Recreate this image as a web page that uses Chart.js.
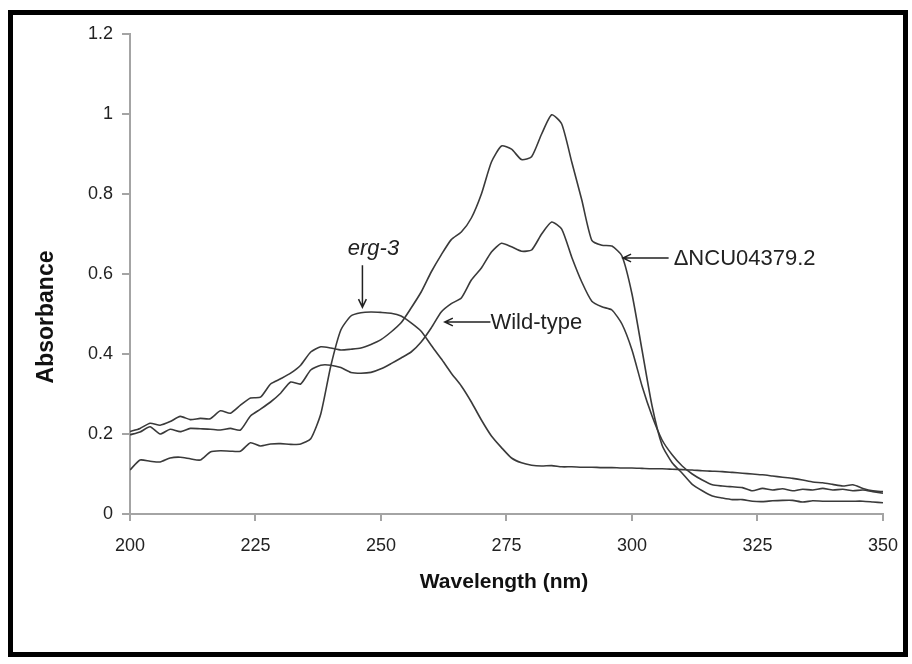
<!DOCTYPE html>
<html>
<head>
<meta charset="utf-8">
<script src="https://cdn.jsdelivr.net/npm/chart.js@4.4.1/dist/chart.umd.min.js"></script>
<style>
  html, body { margin: 0; padding: 0; background: #fff; }
  #wrap { width: 912px; height: 664px; }
</style>
</head>
<body>
<div id="wrap"><canvas id="grafico" width="912" height="664"></canvas></div>
<script>
// comprimento de onda (nm), passo de 2 nm
const comprimentos = [];
for (let nm = 200; nm <= 350; nm += 2) comprimentos.push(nm);

// absorbancia
const delta04379 = [
  0.206, 0.214, 0.227, 0.222, 0.231, 0.244, 0.236, 0.239, 0.238, 0.258,
  0.252, 0.272, 0.290, 0.292, 0.325, 0.338, 0.352, 0.372, 0.405, 0.418,
  0.415, 0.410, 0.412, 0.415, 0.424, 0.436, 0.455, 0.478, 0.515, 0.555,
  0.605, 0.648, 0.686, 0.705, 0.740, 0.800, 0.880, 0.920, 0.912, 0.886,
  0.893, 0.950, 0.998, 0.975, 0.880, 0.785, 0.684, 0.672, 0.670, 0.645,
  0.550, 0.410, 0.270, 0.172, 0.128, 0.102, 0.074, 0.058, 0.045, 0.040,
  0.036, 0.036, 0.032, 0.031, 0.033, 0.034, 0.034, 0.030, 0.033, 0.032,
  0.032, 0.032, 0.032, 0.032, 0.030, 0.028
];
const selvagem = [
  0.198, 0.205, 0.218, 0.200, 0.212, 0.206, 0.214, 0.213, 0.212, 0.210,
  0.214, 0.210, 0.245, 0.262, 0.280, 0.302, 0.330, 0.325, 0.360, 0.372,
  0.372, 0.366, 0.354, 0.352, 0.354, 0.363, 0.376, 0.390, 0.405, 0.430,
  0.465, 0.505, 0.526, 0.540, 0.585, 0.615, 0.655, 0.677, 0.668, 0.657,
  0.660, 0.700, 0.730, 0.712, 0.642, 0.580, 0.532, 0.518, 0.510, 0.475,
  0.410, 0.320, 0.245, 0.185, 0.148, 0.120, 0.100, 0.085, 0.073, 0.070,
  0.068, 0.066, 0.058, 0.064, 0.060, 0.063, 0.058, 0.062, 0.060, 0.064,
  0.060, 0.062, 0.058, 0.060, 0.056, 0.052
];
const erg3 = [
  0.110, 0.135, 0.132, 0.130, 0.140, 0.142, 0.138, 0.135, 0.155, 0.158,
  0.157, 0.157, 0.178, 0.170, 0.175, 0.176, 0.174, 0.175, 0.188, 0.250,
  0.370, 0.460, 0.495, 0.503, 0.505, 0.504, 0.502, 0.495, 0.478, 0.457,
  0.422, 0.388, 0.352, 0.320, 0.280, 0.235, 0.195, 0.166, 0.140, 0.128,
  0.122, 0.120, 0.121, 0.118, 0.118, 0.117, 0.117, 0.116, 0.116, 0.115,
  0.115, 0.114, 0.113, 0.113, 0.112, 0.111, 0.110, 0.108, 0.107, 0.106,
  0.104, 0.102, 0.100, 0.098, 0.095, 0.092, 0.089, 0.085, 0.080, 0.078,
  0.074, 0.070, 0.073, 0.064, 0.058, 0.056
];

const COR_LINHA = "#3a3a3a";
const COR_EIXO = "#a4a4a4";
const FONTE_TICK = "'Liberation Sans Narrow', 'Arial Narrow', 'Liberation Sans', Arial, sans-serif";
const FONTE = "'Liberation Sans', Arial, sans-serif";

function serie(nome, valores) {
  return {
    label: nome,
    data: valores.map((v, i) => ({ x: comprimentos[i], y: v })),
    borderColor: COR_LINHA,
    borderWidth: 1.6,
    pointRadius: 0,
    tension: 0.2,
    fill: false,
  };
}

// seta aberta (ponta em x1,y1)
function seta(ctx, x0, y0, x1, y1) {
  const ang = Math.atan2(y1 - y0, x1 - x0);
  ctx.beginPath();
  ctx.moveTo(x0, y0);
  ctx.lineTo(x1, y1);
  ctx.moveTo(x1 - 9 * Math.cos(ang - 0.45), y1 - 9 * Math.sin(ang - 0.45));
  ctx.lineTo(x1, y1);
  ctx.lineTo(x1 - 9 * Math.cos(ang + 0.45), y1 - 9 * Math.sin(ang + 0.45));
  ctx.stroke();
}

const moldura = {
  id: "moldura",
  beforeDraw(chart) {
    const ctx = chart.ctx;
    ctx.save();
    ctx.fillStyle = "#fff";
    ctx.fillRect(0, 0, chart.width, chart.height);
    ctx.restore();
  },
  afterDraw(chart) {
    const ctx = chart.ctx;
    const x = chart.scales.x;
    const y = chart.scales.y;
    ctx.save();
    // borda preta
    ctx.strokeStyle = "#000";
    ctx.lineWidth = 5;
    ctx.strokeRect(10.5, 12.5, 895, 642);

    // titulos dos eixos
    ctx.fillStyle = "#111";
    ctx.font = "bold 21px " + FONTE;
    ctx.textAlign = "center";
    ctx.textBaseline = "middle";
    ctx.fillText("Wavelength (nm)", 504, 582);
    ctx.save();
    ctx.translate(47, 317);
    ctx.rotate(-Math.PI / 2);
    ctx.font = "bold 23px " + FONTE;
    ctx.fillText("Absorbance", 0, 0);
    ctx.restore();

    // anotacoes
    ctx.strokeStyle = "#222";
    ctx.lineWidth = 1.5;
    ctx.fillStyle = "#222";

    // erg-3
    const ex = x.getPixelForValue(246.3);
    seta(ctx, ex, y.getPixelForValue(0.622), ex, y.getPixelForValue(0.517));
    ctx.font = "italic 22px " + FONTE;
    ctx.textAlign = "center";
    ctx.textBaseline = "alphabetic";
    ctx.fillText("erg-3", x.getPixelForValue(248.5), y.getPixelForValue(0.648));

    // Wild-type
    ctx.font = "22px " + FONTE;
    const wy = y.getPixelForValue(0.48);
    seta(ctx, x.getPixelForValue(271.8), wy, x.getPixelForValue(262.7), wy);
    ctx.textAlign = "left";
    ctx.textBaseline = "middle";
    ctx.fillText("Wild-type", x.getPixelForValue(271.8), wy + 1);

    // ΔNCU04379.2
    const dy = y.getPixelForValue(0.64);
    seta(ctx, x.getPixelForValue(307.3), dy, x.getPixelForValue(298.2), dy);
    ctx.fillText("\u0394NCU04379.2", x.getPixelForValue(308.3), dy + 1);
    ctx.restore();
  },
};

new Chart(document.getElementById("grafico"), {
  type: "line",
  data: {
    datasets: [
      serie("\u0394NCU04379.2", delta04379),
      serie("Wild-type", selvagem),
      serie("erg-3", erg3),
    ],
  },
  options: {
    responsive: false,
    animation: false,
    events: [],
    layout: { padding: { top: 34, right: 24, left: 0, bottom: 0 } },
    plugins: {
      legend: { display: false },
      tooltip: { enabled: false },
    },
    scales: {
      x: {
        type: "linear",
        min: 200,
        max: 350,
        afterFit: (s) => { s.height = 150; },
        border: { display: true, color: COR_EIXO, width: 2 },
        grid: { drawOnChartArea: false, drawTicks: true, tickLength: 7, color: COR_EIXO, lineWidth: 2 },
        ticks: {
          stepSize: 25,
          padding: 14,
          maxRotation: 0,
          color: "#222",
          font: { family: FONTE_TICK, size: 18 },
        },
      },
      y: {
        min: 0,
        max: 1.2,
        afterFit: (s) => { s.width = 130; },
        border: { display: true, color: COR_EIXO, width: 2 },
        grid: { drawOnChartArea: false, drawTicks: true, tickLength: 8, color: COR_EIXO, lineWidth: 2 },
        ticks: {
          stepSize: 0.2,
          padding: 9,
          color: "#222",
          font: { family: FONTE_TICK, size: 18 },
          callback: (v) => String(Number(v.toFixed(1))),
        },
      },
    },
  },
  plugins: [moldura],
});
</script>
</body>
</html>
